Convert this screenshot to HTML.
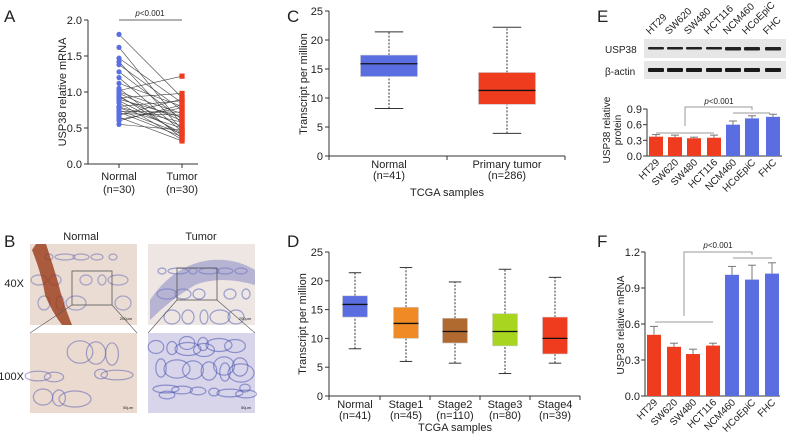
<!DOCTYPE html>
<html><head><meta charset="utf-8"><style>
body{margin:0;background:#fff}
svg{display:block;font-family:"Liberation Sans",sans-serif}
</style></head><body>
<svg id="fig" width="793" height="437" viewBox="0 0 793 437">
<g id="A"></g>
<g id="B"></g>
<g id="C"></g>
<g id="D"></g>
<g id="E"></g>
<g id="F"></g>
</svg>
<script>
// ---- data ----
const aNormal=[1.80,1.62,1.47,1.42,1.38,1.28,1.20,1.12,1.05,1.02,1.00,0.98,0.95,0.93,0.92,0.90,0.88,0.85,0.80,0.79,0.78,0.75,0.73,0.72,0.70,0.68,0.65,0.62,0.60,0.55];
const aTumor=[0.92,0.55,0.85,0.48,0.75,0.62,0.45,0.80,0.36,1.22,0.70,0.60,0.40,0.52,0.98,0.65,0.43,0.34,0.88,0.58,0.50,0.42,0.72,0.38,0.68,0.90,0.32,0.78,0.82,0.47];
const aTicks=[0,0.5,1.0,1.5,2.0];
const cCats=["Normal","Primary tumor"];
const cN=["(n=41)","(n=286)"];
const cStats=[[8.2,13.7,15.9,17.4,21.4],[3.9,8.9,11.3,14.4,22.2]];
const dCats=["Normal","Stage1","Stage2","Stage3","Stage4"];
const dN=["(n=41)","(n=45)","(n=110)","(n=80)","(n=39)"];
const dStats=[[8.2,13.7,15.9,17.4,21.4],[6.0,10.0,12.6,15.4,22.3],[5.7,9.2,11.2,13.5,19.8],[3.9,8.7,11.2,14.3,22.0],[5.7,7.3,10.0,13.7,20.6]];
const tpmTicks=[0,5,10,15,20,25];
const cells=["HT29","SW620","SW480","HCT116","NCM460","HCoEpiC","FHC"];
const eVals=[0.37,0.36,0.34,0.35,0.60,0.72,0.75];
const eErr=[0.04,0.04,0.02,0.05,0.07,0.05,0.05];
const eTicks=[0,0.3,0.6,0.9];
const fVals=[0.51,0.41,0.35,0.42,1.01,0.97,1.02];
const fErr=[0.07,0.03,0.04,0.02,0.07,0.12,0.09];
const fTicks=[0,0.3,0.6,0.9,1.2];

const NS="http://www.w3.org/2000/svg";
function el(parent,tag,attrs,text){const e=document.createElementNS(NS,tag);for(const k in attrs)e.setAttribute(k,attrs[k]);if(text!==undefined)e.textContent=text;parent.appendChild(e);return e;}
function txt(p,x,y,s,size,anchor,name,extra){const t=el(p,'text',Object.assign({x:x,y:y,'font-size':size,'text-anchor':anchor||'middle',fill:'#222'},extra||{}),s);


return t;}
const RED="#ef3b1e",BLUE="#5b6ee1";

// ---- Panel A ----
(function(){const g=document.getElementById('A');
const y=v=>164-v*72, xN=119,xT=182;
txt(g,4,22,"A",17,'start','panel-label-a');
el(g,'line',{x1:88,y1:20,x2:88,y2:164,stroke:'#333'});
aTicks.forEach(v=>{el(g,'line',{x1:84,x2:88,y1:y(v),y2:y(v),stroke:'#333'});
txt(g,82,y(v)+4,v.toFixed(1),11,'end','y-tick-a');});
el(g,'line',{x1:88,y1:164,x2:198,y2:164,stroke:'#333'});
[xN,xT].forEach(x=>el(g,'line',{x1:x,x2:x,y1:164,y2:168,stroke:'#333'}));
txt(g,0,0,"USP38 relative mRNA",11,'middle','y-axis-title-a',{transform:'translate(66,92) rotate(-90)'});
txt(g,xN,180,"Normal",11,'middle','x-label-normal');txt(g,xN,193,"(n=30)",11,'middle','x-n-normal');
txt(g,xT,180,"Tumor",11,'middle','x-label-tumor');txt(g,xT,193,"(n=30)",11,'middle','x-n-tumor');
el(g,'line',{x1:xN,x2:xT,y1:20,y2:20,stroke:'#999','stroke-width':1.5});
const p=txt(g,150,16,"",8,'middle','p-value-a');p.innerHTML='<tspan font-style="italic">p</tspan>&lt;0.001';
aNormal.forEach((v,i)=>{const l=el(g,'line',{x1:xN,y1:y(v),x2:xT,y2:y(aTumor[i]),stroke:'#444','stroke-width':0.6});

});
aNormal.forEach(v=>{const c=el(g,'circle',{cx:xN,cy:y(v),r:2.6,fill:BLUE});

});
aTumor.forEach(v=>{const r=el(g,'rect',{x:xT-2.6,y:y(v)-2.6,width:5.2,height:5.2,fill:RED});

});
})();

// ---- Panel B ----
(function(){const g=document.getElementById('B');
txt(g,4,247,"B",17,'start','panel-label-b');
txt(g,81,240,"Normal",11,'middle','title-normal');txt(g,201,240,"Tumor",11,'middle','title-tumor');
txt(g,24,287,"40X",11,'end','label-40x');txt(g,24,380,"100X",11,'end','label-100x');
function img(x,y,w,h,bg,name,stroke,n,seed,rs){const r=el(g,'rect',{x:x,y:y,width:w,height:h,fill:bg});


for(let i=0;i<n;i++){const cx=x+6+((i*37+seed*13)%(w-12)),cy=y+6+((i*23+seed*7)%(h-12));
el(g,'ellipse',{cx:cx,cy:cy,rx:(4+(i%4)*2)*rs,ry:(3+(i%3)*2)*rs,fill:'none',stroke:stroke,'stroke-width':1.2,opacity:0.55});}}
img(30,244,107,81,'#eadbd3','normal-40x-image','#6c6fb8',14,1,1);
el(g,'path',{d:'M32,250 Q42,275 45,295 Q52,312 62,325 L72,325 Q62,300 58,282 Q52,262 46,244 L36,244 Z',fill:'#9a3a18',opacity:0.8});
img(148,244,107,81,'#eee6e3','tumor-40x-image','#5561b8',16,3,1);
el(g,'path',{d:'M150,300 Q170,270 200,262 Q230,255 255,270 L255,285 Q220,275 195,285 Q170,300 150,320 Z',fill:'#7d7fc4',opacity:0.5});
img(30,333,107,80,'#ebdad0','normal-100x-image','#5e64b5',10,5,1.6);
img(148,333,107,80,'#d8d4ea','tumor-100x-image','#4b55b0',24,7,1.3);
el(g,'rect',{x:72,y:271,width:40,height:34,fill:'none',stroke:'#555','stroke-width':0.8});
el(g,'rect',{x:177,y:268,width:40,height:32,fill:'none',stroke:'#555','stroke-width':0.8});
el(g,'line',{x1:72,y1:305,x2:30,y2:333,stroke:'#555','stroke-width':0.6});el(g,'line',{x1:112,y1:305,x2:137,y2:333,stroke:'#555','stroke-width':0.6});
el(g,'line',{x1:177,y1:300,x2:148,y2:333,stroke:'#555','stroke-width':0.6});el(g,'line',{x1:217,y1:300,x2:255,y2:333,stroke:'#555','stroke-width':0.6});
txt(g,126,320,"200μm",4,'middle','scale-bar-40x');txt(g,245,320,"200μm",4,'middle','scale-bar-40x-tumor');
txt(g,128,409,"50μm",4,'middle','scale-bar-100x');txt(g,246,409,"50μm",4,'middle','scale-bar-100x-tumor');
})();

// ---- Box plot helper ----
function boxplot(g,ax,yTop,yBot,xEnd,cats,ns,stats,colors,w,centers,tag,xTicks){
const y=v=>yBot-(v/25)*(yBot-yTop);
el(g,'line',{x1:ax,y1:yTop,x2:ax,y2:yBot,stroke:'#333'});
el(g,'line',{x1:ax,y1:yBot,x2:xEnd,y2:yBot,stroke:'#333'});
xTicks.forEach(x=>el(g,'line',{x1:x,x2:x,y1:yBot,y2:yBot+4,stroke:'#333'}));
tpmTicks.forEach(v=>{el(g,'line',{x1:ax-4,x2:ax,y1:y(v),y2:y(v),stroke:'#333'});
txt(g,ax-6,y(v)+4,String(v),11,'end','y-tick-'+tag);});
stats.forEach((s,i)=>{const cx=centers[i];
el(g,'line',{x1:cx,x2:cx,y1:y(s[0]),y2:y(s[1]),stroke:'#333','stroke-dasharray':'2,1.5'});
el(g,'line',{x1:cx,x2:cx,y1:y(s[3]),y2:y(s[4]),stroke:'#333','stroke-dasharray':'2,1.5'});
el(g,'line',{x1:cx-w/4,x2:cx+w/4,y1:y(s[0]),y2:y(s[0]),stroke:'#333'});
el(g,'line',{x1:cx-w/4,x2:cx+w/4,y1:y(s[4]),y2:y(s[4]),stroke:'#333'});
const b=el(g,'rect',{x:cx-w/2,y:y(s[3]),width:w,height:y(s[1])-y(s[3]),fill:colors[i],stroke:'#ccc','stroke-width':0.6});


el(g,'line',{x1:cx-w/2,x2:cx+w/2,y1:y(s[2]),y2:y(s[2]),stroke:'#111','stroke-width':1.3});
txt(g,cx,yBot+12,cats[i],11,'middle','x-label-'+tag);
txt(g,cx,yBot+23,ns[i],11,'middle','x-n-'+tag);});
}
(function(){const g=document.getElementById('C');
txt(g,287,22,"C",17,'start','panel-label-c');
boxplot(g,329,11,156,565,cCats,cN,cStats,[BLUE,RED],57,[389,507],'c',[329,447,565]);
txt(g,447,196,"TCGA samples",11,'middle','x-axis-title-c');
txt(g,0,0,"Transcript per million",11,'middle','y-axis-title-c',{transform:'translate(307,84) rotate(-90)'});
})();
(function(){const g=document.getElementById('D');
txt(g,287,247,"D",17,'start','panel-label-d');
boxplot(g,329,252,396,580,dCats,dN,dStats,[BLUE,"#f08a24","#b06a30","#a8d520",RED],25,[355,406,455,505,555],'d',[329,380,430,480,530,580]);
txt(g,455,431,"TCGA samples",11,'middle','x-axis-title-d');
txt(g,0,0,"Transcript per million",11,'middle','y-axis-title-d',{transform:'translate(306,324) rotate(-90)'});
})();

// ---- Bar helper ----
function bars(g,ax,yTop,yBot,maxV,ticks,vals,errs,centers,tag,bw,xEnd){
const y=v=>yBot-(v/maxV)*(yBot-yTop);
el(g,'line',{x1:ax,y1:yTop,x2:ax,y2:yBot,stroke:'#333'});
el(g,'line',{x1:ax,y1:yBot,x2:xEnd,y2:yBot,stroke:'#333'});
ticks.forEach(v=>{el(g,'line',{x1:ax-4,x2:ax,y1:y(v),y2:y(v),stroke:'#333'});
txt(g,ax-5,y(v)+4,v.toFixed(1),11,'end','y-tick-'+tag);});
vals.forEach((v,i)=>{const cx=centers[i],c=i<4?RED:BLUE;
const r=el(g,'rect',{x:cx-bw/2,y:y(v),width:bw,height:yBot-y(v),fill:c});


el(g,'line',{x1:cx,x2:cx,y1:y(v),y2:y(v+errs[i]),stroke:'#777'});
el(g,'line',{x1:cx-4,x2:cx+4,y1:y(v+errs[i]),y2:y(v+errs[i]),stroke:'#777'});
txt(g,0,0,cells[i],10,'end','x-label-'+tag,{transform:`translate(${cx+4},${yBot+7}) rotate(-45)`});});
return y;}
(function(){const g=document.getElementById('E');
txt(g,597,22,"E",17,'start','panel-label-e');
const cx=[656,675,694,714,733,752,773];
cells.forEach((c,i)=>txt(g,0,0,c,10,'start','lane-label',{transform:`translate(${cx[i]-6},${35}) rotate(-45)`}));
el(g,'rect',{x:644,y:39,width:142,height:19,fill:'#e6e6e6'});
el(g,'rect',{x:644,y:61,width:142,height:18,fill:'#e6e6e6'});
txt(g,605,53,"USP38",10,'start','blot-label-usp38');txt(g,605,75,"β-actin",10,'start','blot-label-actin');
cx.forEach((x,i)=>{const bu=el(g,'rect',{x:x-8,y:47,width:16,height:i<4?2.5:3.5,fill:'#222',rx:1});


const ba=el(g,'rect',{x:x-8,y:68,width:16,height:4,fill:'#1a1a1a',rx:1});

});
bars(g,647,109,156,0.9,eTicks,eVals,eErr,cx,'e',14,782);
txt(g,0,0,"USP38 relative",10,'middle','y-axis-title-e',{transform:'translate(610,130) rotate(-90)'});
txt(g,0,0,"protein",10,'middle','y-axis-title-e2',{transform:'translate(621,130) rotate(-90)'});
el(g,'line',{x1:656,x2:714,y1:133,y2:133,stroke:'#999'});
el(g,'path',{d:'M685,126 L685,107 L752,107 L752,110',fill:'none',stroke:'#999'});
el(g,'line',{x1:733,x2:770,y1:113,y2:113,stroke:'#999'});
const p=txt(g,719,104,"",8,'middle','p-value-e');p.innerHTML='<tspan font-style="italic">p</tspan>&lt;0.001';
})();
(function(){const g=document.getElementById('F');
txt(g,597,247,"F",17,'start','panel-label-f');
const cx=[654,674,693,713,732,752,772];
bars(g,645,252,396,1.2,fTicks,fVals,fErr,cx,'f',14,780);
txt(g,0,0,"USP38 relative mRNA",10,'middle','y-axis-title-f',{transform:'translate(624,325) rotate(-90)'});
el(g,'line',{x1:655,x2:713,y1:322,y2:322,stroke:'#999'});
el(g,'path',{d:'M684,316 L684,252 L752,252 L752,255',fill:'none',stroke:'#999'});
el(g,'line',{x1:733,x2:772,y1:258,y2:258,stroke:'#999'});
const p=txt(g,718,248,"",8,'middle','p-value-f');p.innerHTML='<tspan font-style="italic">p</tspan>&lt;0.001';
})();
</script>
</body></html>
